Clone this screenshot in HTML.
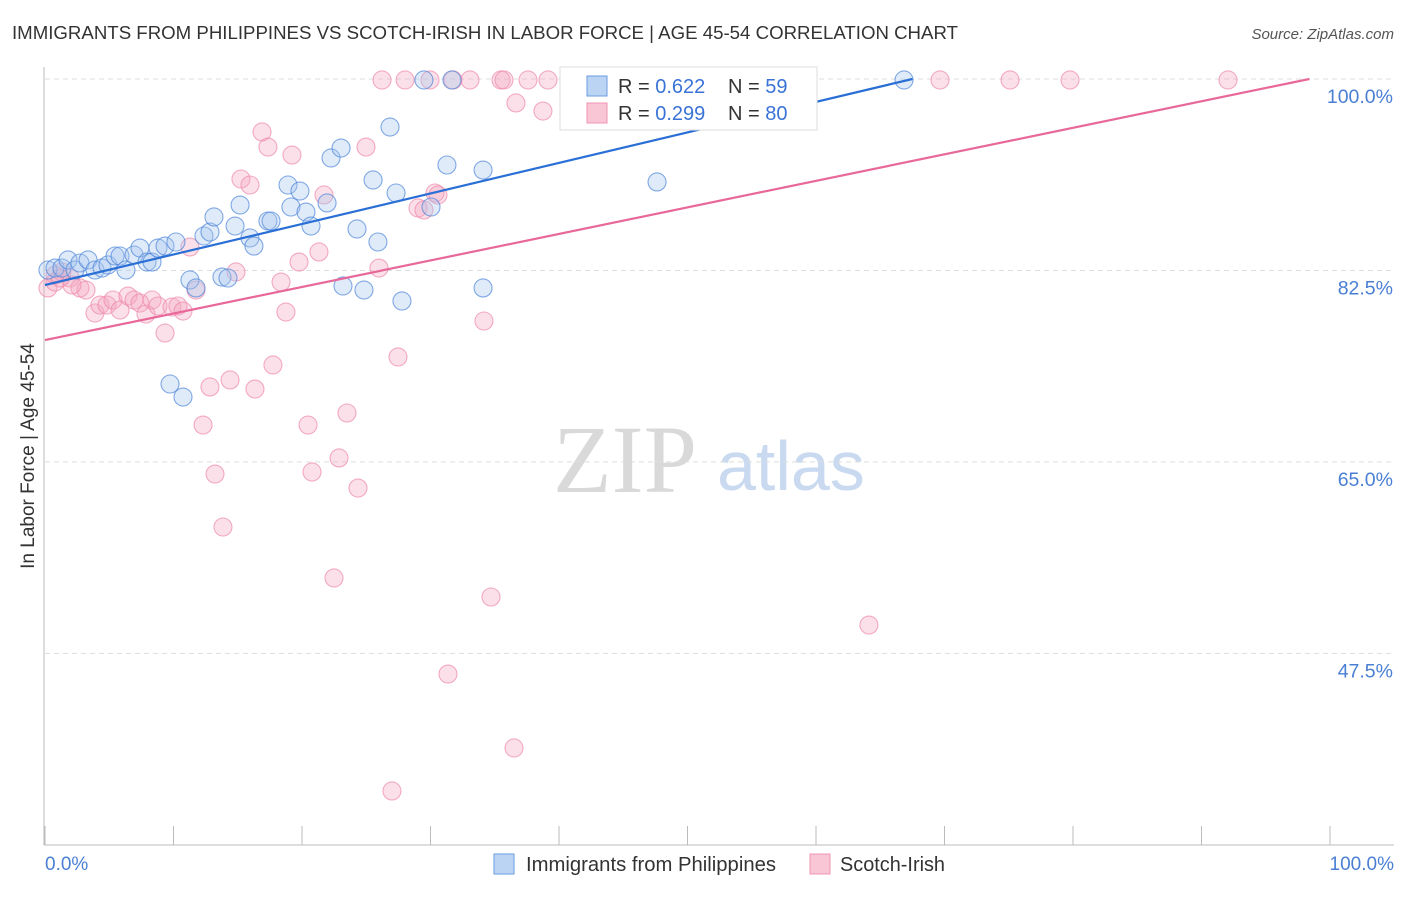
<!DOCTYPE html>
<html><head><meta charset="utf-8"><style>
body{margin:0;background:#fff;font-family:"Liberation Sans",sans-serif;}
</style></head><body>
<svg width="1406" height="892" viewBox="0 0 1406 892" xmlns="http://www.w3.org/2000/svg">
<text x="12" y="39" font-size="18" fill="#333" textLength="946" lengthAdjust="spacingAndGlyphs">IMMIGRANTS FROM PHILIPPINES VS SCOTCH-IRISH IN LABOR FORCE | AGE 45-54 CORRELATION CHART</text>
<text x="1394" y="39" font-size="15" fill="#555" font-style="italic" text-anchor="end">Source: ZipAtlas.com</text>
<g>
<text x="553" y="492" font-size="96" font-family="Liberation Serif,serif" fill="#d9d9d9">ZIP</text>
<text x="717" y="490" font-size="70" fill="#c8d9f0">atlas</text>
</g>
<g id="grid"></g>
<line x1="44" y1="67" x2="44" y2="845" stroke="#bbb"/>
<line x1="44" y1="845" x2="1394" y2="845" stroke="#bbb"/>
<g id="xticks"></g>
<text x="34" y="456" font-size="19" fill="#333" transform="rotate(-90 34 456)" text-anchor="middle">In Labor Force | Age 45-54</text>
<text x="45" y="870" font-size="19" fill="#4a7fd4">0.0%</text>
<text x="1394" y="870" font-size="19" fill="#4a7fd4" text-anchor="end">100.0%</text>
<g id="pts"></g>
<g id="lines"></g>
<g>
<rect x="560" y="67" width="257" height="63" fill="#fff" stroke="#ddd"/>
<rect x="587" y="76" width="20" height="20" fill="#bcd4f4" stroke="#6a9be0"/>
<rect x="587" y="103" width="20" height="20" fill="#f9c6d6" stroke="#ee94b2"/>
<text x="618" y="93" font-size="20" fill="#333">R = <tspan fill="#3a73d6">0.622</tspan><tspan x="728">N = </tspan><tspan fill="#3a73d6">59</tspan></text>
<text x="618" y="120" font-size="20" fill="#333">R = <tspan fill="#3a73d6">0.299</tspan><tspan x="728">N = </tspan><tspan fill="#3a73d6">80</tspan></text>
</g>
<g>
<rect x="494" y="854" width="20" height="20" fill="#bcd4f4" stroke="#6a9be0"/>
<text x="526" y="871" font-size="20" fill="#333" textLength="250" lengthAdjust="spacingAndGlyphs">Immigrants from Philippines</text>
<rect x="810" y="854" width="20" height="20" fill="#f9c6d6" stroke="#ee94b2"/>
<text x="840" y="871" font-size="20" fill="#333" textLength="105" lengthAdjust="spacingAndGlyphs">Scotch-Irish</text>
</g>
</svg>
<script>
const yTicks=[100,82.5,65,47.5];
const yTickLabels=["100.0%","82.5%","65.0%","47.5%"];
const xTicks=[0,10,20,30,40,50,60,70,80,90,100];
const bluePx=[[48,270],[55,268],[62,268],[68,260],[75,270],[80,263],[88,260],[95,270],[102,268],[108,265],[115,256],[120,256],[126,270],[134,255],[140,248],[147,262],[152,262],[158,248],[165,246],[176,242],[190,280],[196,288],[204,236],[210,232],[214,217],[222,277],[228,278],[235,226],[240,205],[250,238],[254,246],[268,221],[271,221],[288,185],[291,207],[300,191],[306,212],[311,226],[327,203],[331,158],[341,148],[343,286],[357,229],[364,290],[373,180],[378,242],[390,127],[396,193],[402,301],[424,80],[431,207],[447,165],[452,80],[483,170],[483,288],[657,182],[904,80],[170,384],[183,397]];
const pinkPx=[[48,288],[55,275],[62,272],[70,278],[80,288],[86,290],[95,313],[100,305],[107,305],[113,300],[120,310],[128,296],[134,300],[140,303],[146,314],[152,300],[158,306],[165,333],[172,307],[178,306],[183,311],[190,247],[196,290],[203,425],[210,387],[215,474],[223,527],[230,380],[236,272],[241,179],[250,185],[255,389],[262,132],[268,147],[273,365],[281,282],[286,312],[292,155],[299,262],[308,425],[312,472],[319,252],[324,195],[334,578],[339,458],[347,413],[358,488],[366,147],[379,268],[382,80],[392,791],[398,357],[405,80],[418,208],[424,210],[430,80],[435,193],[438,195],[448,674],[453,80],[470,80],[484,321],[491,597],[501,80],[504,80],[514,748],[516,103],[528,80],[543,111],[548,80],[708,80],[713,80],[869,625],[940,80],[1010,80],[1070,80],[1228,80],[55,282],[72,285],[60,278]];
const blueX=bluePx.map(p=>+((p[0]-45)/12.85).toFixed(2));
const blueY=bluePx.map(p=>+(100-(p[1]-79)/10.94).toFixed(2));
const pinkX=pinkPx.map(p=>+((p[0]-45)/12.85).toFixed(2));
const pinkY=pinkPx.map(p=>+(100-(p[1]-79)/10.94).toFixed(2));
const blueTrend=[[0,81.17],[67.5,100]];
const pinkTrend=[[0,76.14],[98.4,100]];

const sx=v=>45+v*12.85;
const sy=v=>79+(100-v)*10.94;
const NS="http://www.w3.org/2000/svg";
function mk(tag,attrs,parent){const e=document.createElementNS(NS,tag);for(const k in attrs)e.setAttribute(k,attrs[k]);parent.appendChild(e);return e;}
const grid=document.getElementById('grid');
yTicks.forEach((t,i)=>{
 const l=mk('line',{x1:45,x2:1394,y1:sy(t),y2:sy(t),stroke:'#ddd','stroke-dasharray':'5,4'},grid);
 
 
 const tx=mk('text',{x:1393,y:sy(t)+24,'font-size':19.5,fill:'#4a7fd4','text-anchor':'end'},grid);
 tx.textContent=yTickLabels[i];
 
 
});
const xt=document.getElementById('xticks');
xTicks.forEach(t=>{
 const l=mk('line',{x1:sx(t),x2:sx(t),y1:826,y2:845,stroke:'#bbb'},xt);
 
 
});
const pts=document.getElementById('pts');
function series(X,Y,fill,stroke,name){
 X.forEach((x,i)=>{
  const c=mk('circle',{cx:sx(x),cy:sy(Y[i]),r:9,fill:fill,'fill-opacity':0.35,stroke:stroke,'stroke-opacity':0.7,'stroke-width':1.1},pts);
  
  
 });
}
series(pinkX,pinkY,'#f4a7c0','#ee8aab','point-scotch-irish');
series(blueX,blueY,'#a6c6ee','#4f86da','point-philippines');
const lines=document.getElementById('lines');
const bl=mk('line',{x1:sx(blueTrend[0][0]),y1:sy(blueTrend[0][1]),x2:sx(blueTrend[1][0]),y2:sy(blueTrend[1][1]),stroke:'#2a6fd6','stroke-width':2.2},lines);


const pl=mk('line',{x1:sx(pinkTrend[0][0]),y1:sy(pinkTrend[0][1]),x2:sx(pinkTrend[1][0]),y2:sy(pinkTrend[1][1]),stroke:'#e8689a','stroke-width':2.2},lines);


</script>
</body></html>
